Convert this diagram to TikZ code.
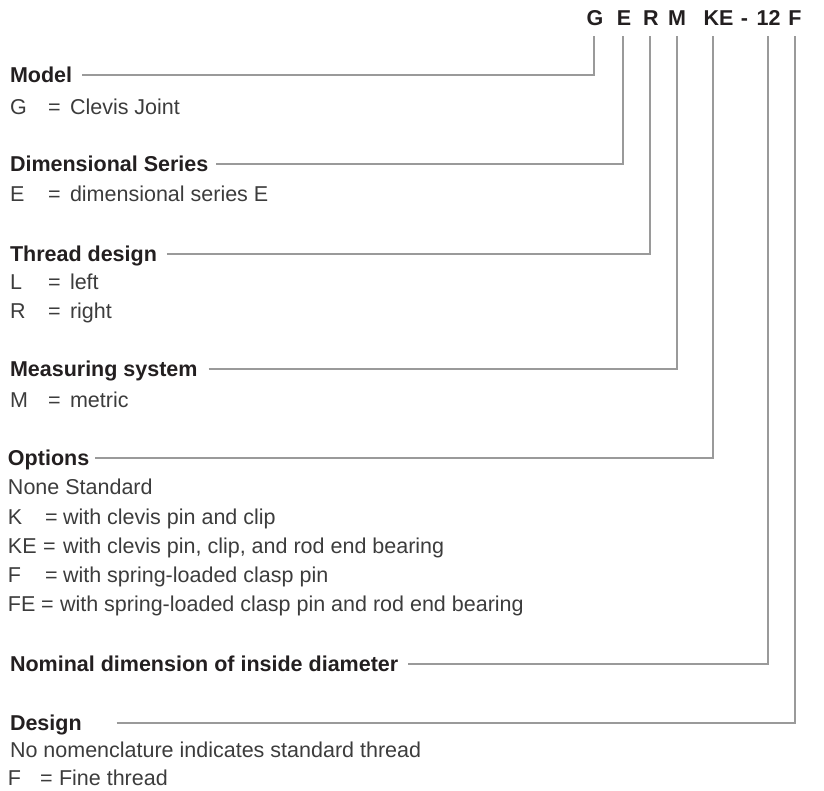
\documentclass[tikz,border=0pt]{standalone}
\usepackage{fontspec}
\setmainfont{Liberation Sans}
\definecolor{txt}{HTML}{3C3C3C}
\definecolor{hd}{HTML}{231F20}
\definecolor{ln}{HTML}{9A9A9A}
\begin{document}
\begin{tikzpicture}[x=1pt,y=-1pt,
  every node/.style={inner sep=0pt,outer sep=0pt,anchor=base west,font=\fontsize{21.5}{25}\selectfont},
  head/.style={text=hd,text height=14pt,text depth=0pt,font=\fontsize{21.5}{25}\selectfont\bfseries},
  code/.style={text=hd,anchor=base,font=\fontsize{21.5}{25}\selectfont\bfseries},
  body/.style={text=txt},
  conn/.style={draw=ln,line width=1.3pt}]
\useasboundingbox (0,0) rectangle (824,790);
% header code
\node[code] (hG)  at (595,25) {G};
\node[code] (hE)  at (624,25) {E};
\node[code] (hR)  at (651,25) {R};
\node[code] (hM)  at (677,25) {M};
\node[code] (hKE) at (718.5,25) {KE};
\node[code] (hDash) at (744.5,25) {-};
\node[code] (h12) at (768.5,25) {12};
\node[code] (hF)  at (795,25) {F};
\coordinate (vG)  at (594,36);
\coordinate (vE)  at (623,36);
\coordinate (vR)  at (650,36);
\coordinate (vM)  at (677,36);
\coordinate (vKE) at (713,36);
\coordinate (v12) at (768,36);
\coordinate (vF)  at (795,36);
% Model
\node[head] (lModel) at (10,82) {Model};
\node[body] (kG) at (10,114) {G};
\node[body] (eG) at (48,114) {=};
\node[body] (tG) at (70,114) {Clevis Joint};
% Dimensional series
\node[head] (lDim) at (10,171) {Dimensional Series};
\node[body] (kE) at (10,201) {E};
\node[body] (eE) at (48,201) {=};
\node[body] (tE) at (70,201) {dimensional series E};
% Thread design
\node[head] (lThr) at (10,261) {Thread design};
\node[body] (kL) at (10,289) {L};
\node[body] (eL) at (48,289) {=};
\node[body] (tL) at (70,289) {left};
\node[body] (kR) at (10,318) {R};
\node[body] (eR) at (48,318) {=};
\node[body] (tR) at (70,318) {right};
% Measuring system
\node[head] (lMea) at (10,376) {Measuring system};
\node[body] (kM) at (10,407) {M};
\node[body] (eM) at (48,407) {=};
\node[body] (tM) at (70,407) {metric};
% Options
\node[head] (lOpt) at (8,465) {Options};
\node[body] (tNone) at (8,494) {None Standard};
\node[body] (kK) at (8,524) {K};
\node[body] (eK) at (45,524) {=};
\node[body] (tK) at (63,524) {with clevis pin and clip};
\node[body] (kKE) at (8,553) {KE};
\node[body] (eKE) at (43,553) {=};
\node[body] (tKE) at (63,553) {with clevis pin, clip, and rod end bearing};
\node[body] (kF) at (8,582) {F};
\node[body] (eF) at (45,582) {=};
\node[body] (tF) at (63,582) {with spring-loaded clasp pin};
\node[body] (kFE) at (8,611) {FE};
\node[body] (eFE) at (41,611) {=};
\node[body] (tFE) at (60,611) {with spring-loaded clasp pin and rod end bearing};
% Nominal
\node[head] (lNom) at (10,671) {Nominal dimension of inside diameter};
% Design
\node[head] (lDes) at (10,730) {Design};
\node[body] (tNo) at (10,757) {No nomenclature indicates standard thread};
\node[body] (kD) at (8,785) {F};
\node[body] (eD) at (40,785) {=};
\node[body] (tD) at (59,785) {Fine thread};
% connectors
\draw[conn] ([xshift=10pt]lModel.east) -| (vG);
\draw[conn] ([xshift=8pt]lDim.east) -| (vE);
\draw[conn] ([xshift=10pt]lThr.east) -| (vR);
\draw[conn] ([xshift=11pt]lMea.east) -| (vM);
\draw[conn] ([xshift=6pt]lOpt.east) -| (vKE);
\draw[conn] ([xshift=10pt]lNom.east) -| (v12);
\draw[conn] ([xshift=35pt]lDes.east) -| (vF);
\end{tikzpicture}
\end{document}
